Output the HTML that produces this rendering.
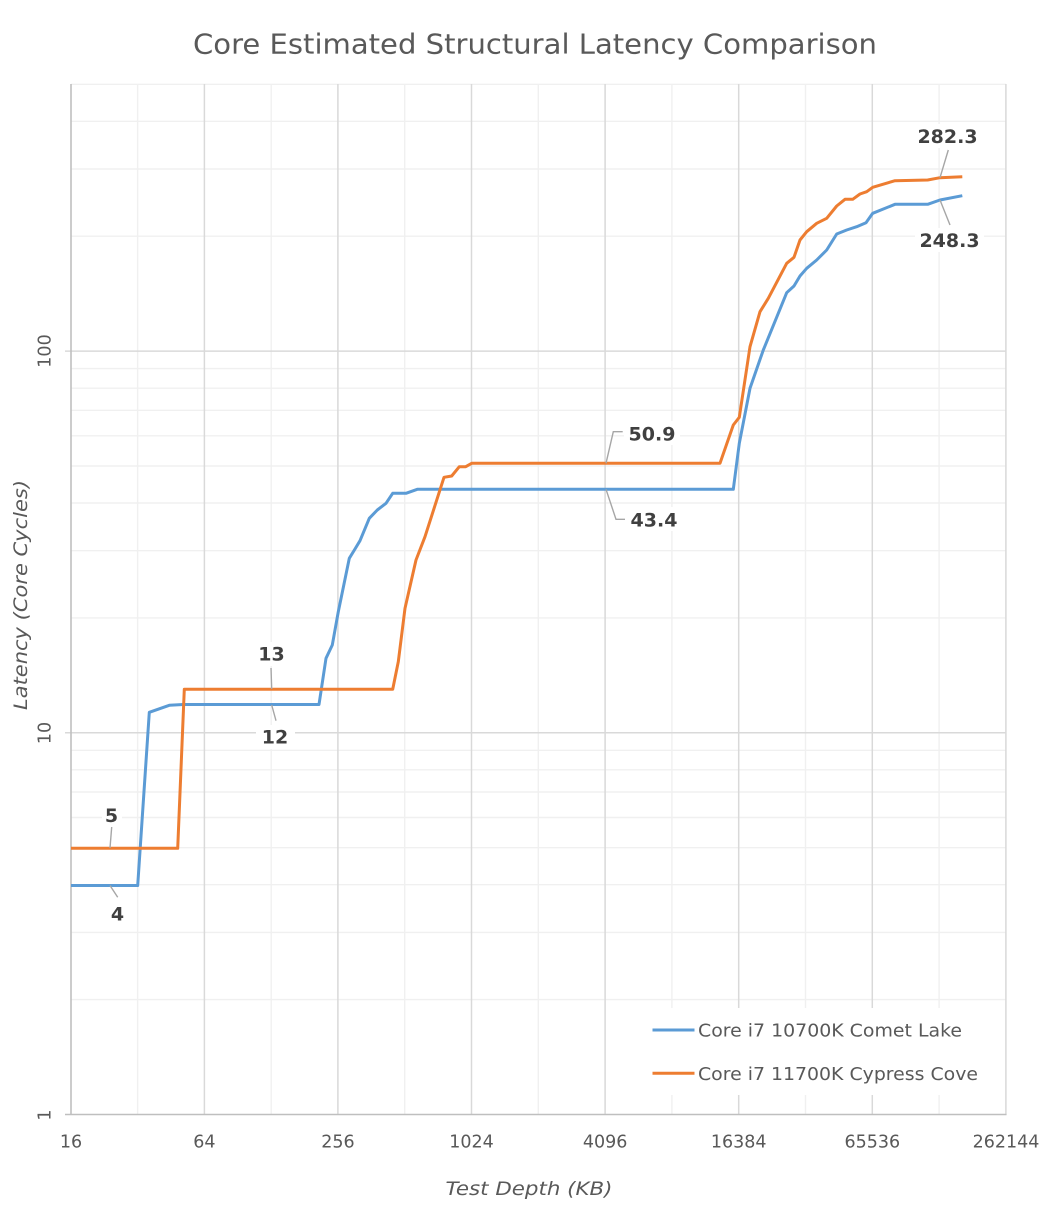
<!DOCTYPE html>
<html>
<head>
<meta charset="utf-8">
<style>
html,body{margin:0;padding:0;background:#fff;}
svg{display:block;}
text{font-family:"DejaVu Sans","Liberation Sans",sans-serif;}
</style>
</head>
<body>
<svg width="1055" height="1221" viewBox="0 0 1055 1221" xmlns="http://www.w3.org/2000/svg">
<rect x="0" y="0" width="1055" height="1221" fill="#fff"/>
<!-- title -->
<text x="535" y="53.5" font-size="28" fill="#595959" text-anchor="middle" textLength="684" lengthAdjust="spacingAndGlyphs">Core Estimated Structural Latency Comparison</text>

<!-- minor horizontal gridlines -->
<g stroke="#f0f0f0" stroke-width="1.4">
<line x1="71" x2="1006" y1="999.6" y2="999.6"/>
<line x1="71" x2="1006" y1="932.4" y2="932.4"/>
<line x1="71" x2="1006" y1="884.7" y2="884.7"/>
<line x1="71" x2="1006" y1="847.7" y2="847.7"/>
<line x1="71" x2="1006" y1="817.5" y2="817.5"/>
<line x1="71" x2="1006" y1="792.0" y2="792.0"/>
<line x1="71" x2="1006" y1="769.8" y2="769.8"/>
<line x1="71" x2="1006" y1="750.3" y2="750.3"/>
<line x1="71" x2="1006" y1="617.9" y2="617.9"/>
<line x1="71" x2="1006" y1="550.7" y2="550.7"/>
<line x1="71" x2="1006" y1="503.0" y2="503.0"/>
<line x1="71" x2="1006" y1="466.0" y2="466.0"/>
<line x1="71" x2="1006" y1="435.8" y2="435.8"/>
<line x1="71" x2="1006" y1="410.3" y2="410.3"/>
<line x1="71" x2="1006" y1="388.2" y2="388.2"/>
<line x1="71" x2="1006" y1="368.6" y2="368.6"/>
<line x1="71" x2="1006" y1="236.2" y2="236.2"/>
<line x1="71" x2="1006" y1="169.0" y2="169.0"/>
<line x1="71" x2="1006" y1="121.3" y2="121.3"/>
<line x1="71" x2="1006" y1="84.3" y2="84.3"/>
</g>
<!-- minor vertical gridlines -->
<g stroke="#f0f0f0" stroke-width="1.4">
<line x1="137.6" x2="137.6" y1="84" y2="1115"/>
<line x1="271.2" x2="271.2" y1="84" y2="1115"/>
<line x1="404.7" x2="404.7" y1="84" y2="1115"/>
<line x1="538.3" x2="538.3" y1="84" y2="1115"/>
<line x1="671.9" x2="671.9" y1="84" y2="1115"/>
<line x1="805.5" x2="805.5" y1="84" y2="1115"/>
<line x1="939.1" x2="939.1" y1="84" y2="1115"/>
</g>
<!-- major gridlines -->
<g stroke="#d9d9d9" stroke-width="1.5">
<line x1="65" x2="1006" y1="732.8" y2="732.8"/>
<line x1="65" x2="1006" y1="351.1" y2="351.1"/>
<line x1="204.4" x2="204.4" y1="84" y2="1115"/>
<line x1="337.9" x2="337.9" y1="84" y2="1115"/>
<line x1="471.5" x2="471.5" y1="84" y2="1115"/>
<line x1="605.1" x2="605.1" y1="84" y2="1115"/>
<line x1="738.7" x2="738.7" y1="84" y2="1115"/>
<line x1="872.3" x2="872.3" y1="84" y2="1115"/>
<line x1="1005.9" x2="1005.9" y1="84" y2="1115"/>
</g>
<!-- axes -->
<g stroke="#bfbfbf" stroke-width="1.6">
<line x1="71" x2="71" y1="84" y2="1115"/>
<line x1="65" x2="1006.5" y1="1114.5" y2="1114.5"/>
</g>

<!-- legend background -->
<rect x="640" y="1008" width="362" height="87" fill="#fff"/>

<!-- data label backgrounds -->
<g fill="#fff">
<rect x="102" y="803" width="20" height="24"/>
<rect x="107" y="901" width="21" height="24"/>
<rect x="256" y="725" width="39" height="24"/>
<rect x="252" y="642" width="39" height="24"/>
<rect x="624" y="421" width="56" height="24"/>
<rect x="626" y="507" width="56" height="24"/>
<rect x="913" y="124" width="69" height="24"/>
<rect x="915" y="228" width="69" height="24"/>
</g>

<!-- series -->
<polyline fill="none" stroke="#5B9BD5" stroke-width="3" stroke-linejoin="round" points="71,885.5 137.7,885.5 149.3,712.3 169.3,705.3 183.3,704.5 319,704.5 326,658.3 332.3,645 338.3,611.7 349.3,558.3 355,549 360,540.7 369.3,518.3 377.3,510 386,503.3 392.7,493.3 406,493.3 417.3,489.3 733.3,489.3 739.3,443.3 750,388.3 763.3,350 786.7,292.7 794,286 800,276 806.7,268.3 816.7,260 826.7,250 836.7,234 846.7,230 856.7,226.7 866,222.7 872.7,213.3 895,204.3 927.7,204.3 940,200 962.3,195.7"/>
<polyline fill="none" stroke="#ED7D31" stroke-width="3" stroke-linejoin="round" points="71,848.3 177.7,848.3 184.3,689.3 392.7,689.3 398.3,661.7 405,608.3 416,560 425,536.7 444,477.3 451.7,476 459.3,466.7 465.7,466.7 471.7,463.3 720,463.3 733.3,425 739.3,417.3 750,346.7 760,311.7 768.3,298.3 786.7,263.3 794,257.3 800,240 806.7,231.7 816.7,223.3 826.7,218.3 836.7,206 845,199.3 852.7,199.3 860,194 866.7,191.7 872.7,187.3 895,180.7 927.7,180 940,177.7 962.3,176.7"/>

<!-- leader lines -->
<g stroke="#a6a6a6" stroke-width="1.4" fill="none">
<polyline points="110,848 111.7,827"/>
<polyline points="110,885.5 117.7,897.3"/>
<polyline points="271.7,705 276,720.7"/>
<polyline points="271.7,689 271,668"/>
<polyline points="606,463.3 613.3,431.7 622.7,431.7"/>
<polyline points="606,489.3 616,519.3 625,519.3"/>
<polyline points="940,177.7 948.3,150"/>
<polyline points="940,200 950,225"/>
</g>

<!-- data labels -->
<g font-size="19" font-weight="bold" fill="#404040" text-anchor="middle">
<text x="111.5" y="822">5</text>
<text x="117.5" y="920.5">4</text>
<text x="275" y="743.5">12</text>
<text x="271.5" y="660.5">13</text>
<text x="652" y="440.3">50.9</text>
<text x="654" y="526.3">43.4</text>
<text x="947.5" y="143">282.3</text>
<text x="949.5" y="247">248.3</text>
</g>

<!-- x tick labels -->
<g font-size="17.5" fill="#595959" text-anchor="middle">
<text x="71" y="1147.5">16</text>
<text x="204.4" y="1147.5">64</text>
<text x="337.9" y="1147.5">256</text>
<text x="471.5" y="1147.5">1024</text>
<text x="605.1" y="1147.5">4096</text>
<text x="738.7" y="1147.5">16384</text>
<text x="872.3" y="1147.5">65536</text>
<text x="1006" y="1147.5">262144</text>
</g>
<!-- y tick labels (rotated) -->
<g font-size="17.5" fill="#595959" text-anchor="middle">
<text transform="translate(50.7,351) rotate(-90)">100</text>
<text transform="translate(50.7,733) rotate(-90)">10</text>
<text transform="translate(50.7,1115) rotate(-90)">1</text>
</g>

<!-- axis titles -->
<text transform="translate(27,595) rotate(-90)" font-size="19" font-style="italic" fill="#595959" text-anchor="middle" textLength="230" lengthAdjust="spacingAndGlyphs">Latency (Core Cycles)</text>
<text x="529" y="1195" font-size="19" font-style="italic" fill="#595959" text-anchor="middle" textLength="167" lengthAdjust="spacingAndGlyphs">Test Depth (KB)</text>

<!-- legend -->
<line x1="652.5" x2="694.5" y1="1030" y2="1030" stroke="#5B9BD5" stroke-width="3"/>
<line x1="652.5" x2="694.5" y1="1073.3" y2="1073.3" stroke="#ED7D31" stroke-width="3"/>
<g font-size="18" fill="#595959">
<text x="698" y="1036.5" textLength="264" lengthAdjust="spacingAndGlyphs">Core i7 10700K Comet Lake</text>
<text x="698" y="1079.8" textLength="280" lengthAdjust="spacingAndGlyphs">Core i7 11700K Cypress Cove</text>
</g>
</svg>
</body>
</html>
